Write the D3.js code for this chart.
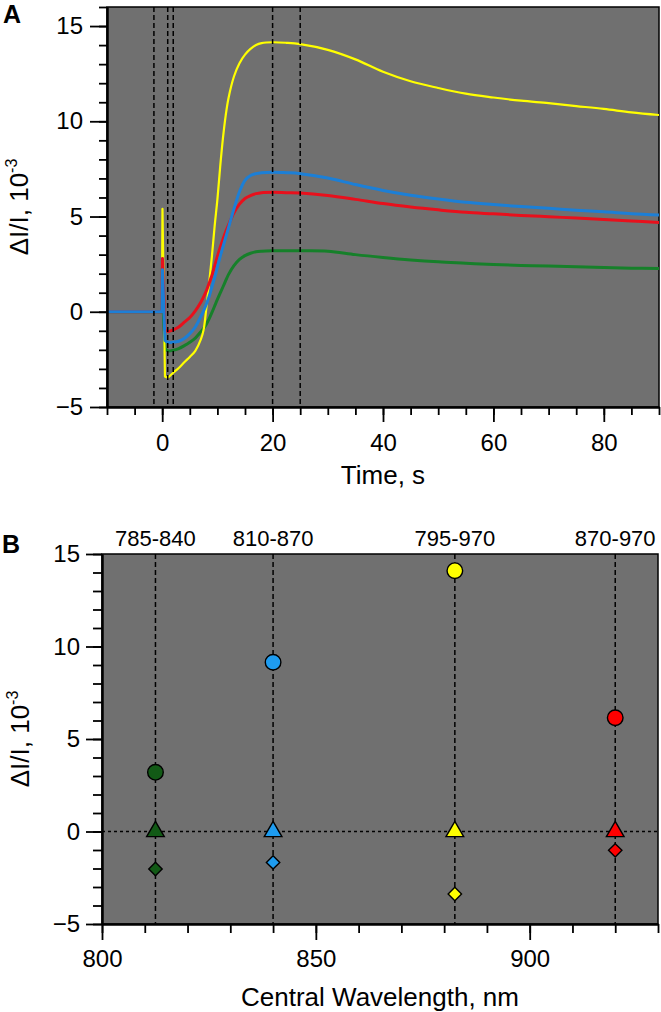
<!DOCTYPE html>
<meta charset="utf-8">
<head>
<style>
 body { margin: 0; background: #fff; }
 text { font-family: "Liberation Sans", Arial, sans-serif; fill: #000; }
</style>
</head>
<body></body>
<script src="https://d3js.org/d3.v7.min.js"></script>
<script>
 // ---- panel A: time courses (x in s, y in 10^-3) ----
 const time =        [-10, -0.05, 0.05, 0.5, 1, 2, 3, 4, 5, 6, 7, 7.5, 8, 8.5, 9, 9.5, 10, 10.5, 11, 11.5, 12, 13, 14, 15, 16, 17, 18, 20, 22.5, 25, 30, 35, 40, 45, 50, 55, 60, 65, 70, 75, 80, 85, 90];
 const yellowTrace = [0, 0, 5.4, -3.4, -3.45, -3.2, -2.95, -2.65, -2.37, -2.05, -1.45, -0.95, 0.2, 1.5, 2.9, 4.5, 5.9, 7.6, 9.1, 10.3, 11.2, 12.35, 13.05, 13.5, 13.8, 14.0, 14.1, 14.15, 14.12, 14.05, 13.75, 13.25, 12.6, 12.1, 11.75, 11.45, 11.25, 11.08, 10.95, 10.8, 10.65, 10.47, 10.33];
 const blueTrace =   [0, 0, 2.2, -1.5, -1.6, -1.6, -1.55, -1.4, -1.15, -0.8, -0.25, 0.05, 0.4, 0.8, 1.3, 1.8, 2.35, 2.9, 3.4, 3.9, 4.4, 5.4, 6.3, 6.9, 7.15, 7.25, 7.3, 7.33, 7.3, 7.25, 7.02, 6.68, 6.37, 6.12, 5.92, 5.75, 5.63, 5.52, 5.43, 5.33, 5.25, 5.15, 5.08];
 const redTrace =    [0, 0, 2.8, -0.95, -1.03, -0.95, -0.8, -0.55, -0.3, 0.05, 0.5, 0.78, 1.1, 1.5, 1.9, 2.4, 2.9, 3.38, 3.8, 4.2, 4.55, 5.2, 5.65, 5.95, 6.1, 6.2, 6.25, 6.27, 6.25, 6.23, 6.1, 5.9, 5.68, 5.5, 5.35, 5.22, 5.14, 5.06, 4.99, 4.92, 4.85, 4.77, 4.69];
 const greenTrace =  [0, 0, 1.0, -1.95, -2.05, -2.02, -1.93, -1.78, -1.6, -1.38, -1.05, -0.87, -0.65, -0.37, -0.05, 0.3, 0.65, 0.98, 1.3, 1.63, 1.95, 2.42, 2.75, 2.95, 3.07, 3.15, 3.18, 3.2, 3.2, 3.2, 3.18, 3.0, 2.85, 2.72, 2.62, 2.55, 2.48, 2.43, 2.4, 2.36, 2.32, 2.29, 2.27];
 const markTimes = [-1.5, 1, 2, 20, 25];
 const flashEnd = 0.5; // spike part is drawn straight, the rest smoothed

 // ---- panel B: amplitudes per band ----
 const wavelength = [812.5, 840, 882.5, 920];
 const bandLabels = ["785-840", "810-870", "795-970", "870-970"];
 const peakValues = [3.2, 9.15, 14.1, 6.15];
 const startValues = [0, 0, 0, 0];
 const dipValues = [-2.03, -1.67, -3.38, -1.02];

 const lineColors = {green: "#16802a", yellow: "#ffff00", red: "#e8101c", blue: "#1c7fd6"};
 const dotColors = ["#125a16", "#1e9cf0", "#ffff00", "#ff0000"];
 const bg = "#707070";
 const font = '"Liberation Sans", Arial, sans-serif';

 const svg = d3.select("body").append("svg")
               .attr("width", 661)
               .attr("height", 1012);

 function styleAxis(g, size) {
     g.attr("font-family", font).attr("font-size", size);
     g.select(".domain").attr("stroke-width", 2);
     g.selectAll(".tick line").attr("stroke-width", 1.8);
     g.selectAll(".tick text").attr("fill", "#000");
 }

 function yTitle(x, y) {
     const t = svg.append("text")
                  .attr("transform", `translate(${x},${y}) rotate(-90)`)
                  .attr("text-anchor", "middle")
                  .attr("font-size", 26);
     t.append("tspan").text("ΔI/I, 10");
     t.append("tspan").attr("dy", -11).attr("font-size", 16).text("-3");
 }

 // ================= Panel A =================
 const a = {left: 107, top: 7, right: 659, bottom: 407};
 const xA = d3.scaleLinear().domain([-10, 90]).range([a.left, a.right]);
 const yA = d3.scaleLinear().domain([-5, 16]).range([a.bottom, a.top]);

 svg.append("rect")
    .attr("x", a.left).attr("y", a.top)
    .attr("width", a.right - a.left).attr("height", a.bottom - a.top)
    .attr("fill", bg).attr("stroke", "#000").attr("stroke-width", 1.5);

 svg.append("clipPath").attr("id", "clipA")
    .append("rect")
    .attr("x", a.left).attr("y", a.top)
    .attr("width", a.right - a.left).attr("height", a.bottom - a.top);

 const straight = d3.line()
                    .x(d => xA(d[0]))
                    .y(d => yA(d[1]));
 const smooth = d3.line()
                  .x(d => xA(d[0]))
                  .y(d => yA(d[1]))
                  .curve(d3.curveCatmullRom.alpha(0.5));

 const traces = [
     {values: greenTrace, color: lineColors.green, w: 3},
     {values: yellowTrace, color: lineColors.yellow, w: 2.2},
     {values: redTrace, color: lineColors.red, w: 3},
     {values: blueTrace, color: lineColors.blue, w: 3}
 ];

 function tracePath(d) {
     const pts = time.map((t, i) => [t, d.values[i]]);
     const head = pts.filter(p => p[0] <= flashEnd);
     const tail = pts.filter(p => p[0] >= flashEnd);
     return straight(head) + smooth(tail).replace(/^M[^A-Za-z]*/, m => "L" + m.slice(1));
 }

 svg.append("g").attr("clip-path", "url(#clipA)")
    .selectAll("path")
    .data(traces)
    .join("path")
    .attr("fill", "none")
    .attr("stroke", d => d.color)
    .attr("stroke-width", d => d.w)
    .attr("stroke-linejoin", "round")
    .attr("d", tracePath);

 svg.append("g")
    .selectAll("line")
    .data(markTimes)
    .join("line")
    .attr("x1", d => xA(d)).attr("x2", d => xA(d))
    .attr("y1", a.top).attr("y2", a.bottom)
    .attr("stroke", "#000")
    .attr("stroke-width", 1.5)
    .attr("stroke-dasharray", "5,3");

 // axes A
 svg.append("g").attr("transform", `translate(0,${a.bottom})`)
    .call(d3.axisBottom(xA).tickValues(d3.range(-10, 91, 5)).tickSize(8).tickFormat("").tickSizeOuter(0))
    .call(g => styleAxis(g, 24));
 svg.append("g").attr("transform", `translate(0,${a.bottom})`)
    .call(d3.axisBottom(xA).tickValues([0, 20, 40, 60, 80]).tickSize(15).tickPadding(12).tickSizeOuter(0))
    .call(g => styleAxis(g, 24));
 svg.append("g").attr("transform", `translate(${a.left},0)`)
    .call(d3.axisLeft(yA).tickValues(d3.range(-5, 17, 1)).tickSize(8).tickFormat("").tickSizeOuter(0))
    .call(g => styleAxis(g, 24));
 svg.append("g").attr("transform", `translate(${a.left},0)`)
    .call(d3.axisLeft(yA).tickValues([-5, 0, 5, 10, 15]).tickSize(17).tickPadding(7).tickSizeOuter(0))
    .call(g => styleAxis(g, 24));

 svg.append("text").attr("x", 3).attr("y", 23)
    .attr("font-size", 25).attr("font-weight", "bold").text("A");
 yTitle(28, 207);
 svg.append("text").attr("x", (a.left + a.right) / 2).attr("y", 484)
    .attr("text-anchor", "middle").attr("font-size", 26).text("Time, s");

 // ================= Panel B =================
 const b = {left: 102, top: 554, right: 658, bottom: 924};
 const xB = d3.scaleLinear().domain([800, 930]).range([b.left, b.right]);
 const yB = d3.scaleLinear().domain([-5, 15]).range([b.bottom, b.top]);

 svg.append("rect")
    .attr("x", b.left).attr("y", b.top)
    .attr("width", b.right - b.left).attr("height", b.bottom - b.top)
    .attr("fill", bg).attr("stroke", "#000").attr("stroke-width", 1.5);

 svg.append("line")
    .attr("x1", b.left).attr("x2", b.right)
    .attr("y1", yB(0)).attr("y2", yB(0))
    .attr("stroke", "#000").attr("stroke-width", 1.5)
    .attr("stroke-dasharray", "3,3");

 svg.append("g")
    .selectAll("line")
    .data(wavelength)
    .join("line")
    .attr("x1", d => xB(d)).attr("x2", d => xB(d))
    .attr("y1", b.top).attr("y2", b.bottom)
    .attr("stroke", "#000")
    .attr("stroke-width", 1.5)
    .attr("stroke-dasharray", "5,3");

 svg.append("g")
    .selectAll("text")
    .data(bandLabels)
    .join("text")
    .attr("x", (d, i) => xB(wavelength[i]))
    .attr("y", 546)
    .attr("text-anchor", "middle")
    .attr("font-size", 22)
    .text(d => d);

 const marks = svg.append("g").attr("stroke", "#000").attr("stroke-width", 1.4);
 marks.selectAll("path.dip")
      .data(dipValues)
      .join("path")
      .attr("class", "dip")
      .attr("d", d3.symbol(d3.symbolSquare, 90))
      .attr("transform", (d, i) => `translate(${xB(wavelength[i])},${yB(d)}) rotate(45)`)
      .attr("fill", (d, i) => dotColors[i]);
 marks.selectAll("path.start")
      .data(startValues)
      .join("path")
      .attr("class", "start")
      .attr("d", d3.symbol(d3.symbolTriangle, 135))
      .attr("transform", (d, i) => `translate(${xB(wavelength[i])},${yB(d)})`)
      .attr("fill", (d, i) => dotColors[i]);
 marks.selectAll("circle")
      .data(peakValues)
      .join("circle")
      .attr("cx", (d, i) => xB(wavelength[i]))
      .attr("cy", d => yB(d))
      .attr("r", 7.8)
      .attr("fill", (d, i) => dotColors[i]);

 // axes B
 svg.append("g").attr("transform", `translate(0,${b.bottom})`)
    .call(d3.axisBottom(xB).tickValues(d3.range(800, 931, 10)).tickSize(9).tickFormat("").tickSizeOuter(0))
    .call(g => styleAxis(g, 24));
 svg.append("g").attr("transform", `translate(0,${b.bottom})`)
    .call(d3.axisBottom(xB).tickValues([800, 850, 900]).tickSize(16).tickPadding(10).tickSizeOuter(0))
    .call(g => styleAxis(g, 24));
 svg.append("g").attr("transform", `translate(${b.left},0)`)
    .call(d3.axisLeft(yB).tickValues(d3.range(-5, 16, 1)).tickSize(9).tickFormat("").tickSizeOuter(0))
    .call(g => styleAxis(g, 24));
 svg.append("g").attr("transform", `translate(${b.left},0)`)
    .call(d3.axisLeft(yB).tickValues([-5, 0, 5, 10, 15]).tickSize(16).tickPadding(6).tickSizeOuter(0))
    .call(g => styleAxis(g, 24));

 svg.append("text").attr("x", 2).attr("y", 553)
    .attr("font-size", 25).attr("font-weight", "bold").text("B");
 yTitle(29, 739);
 svg.append("text").attr("x", (b.left + b.right) / 2).attr("y", 1006)
    .attr("text-anchor", "middle").attr("font-size", 26).text("Central Wavelength, nm");
</script>
